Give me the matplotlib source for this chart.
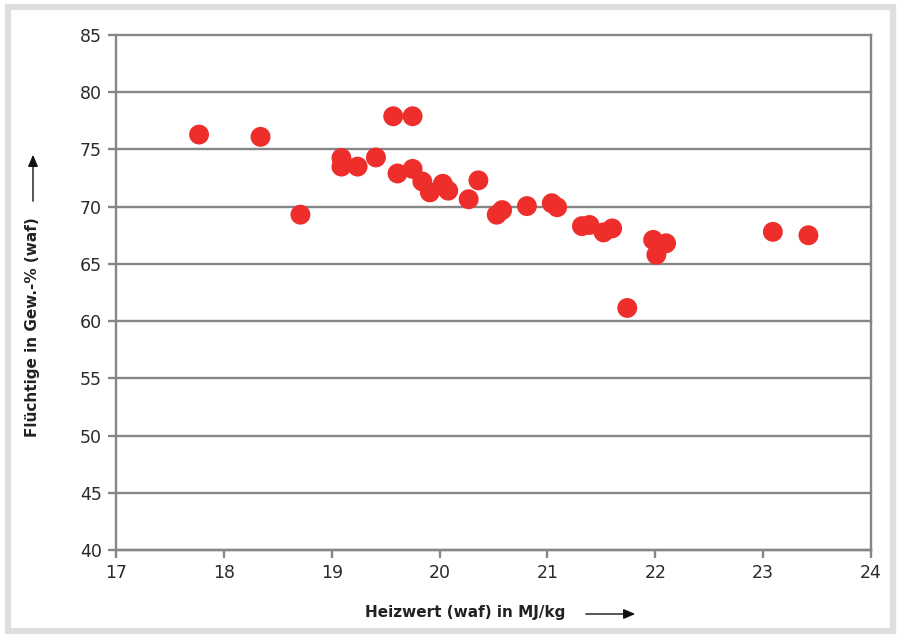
import matplotlib
matplotlib.use("Agg")
import matplotlib.pyplot as plt
from matplotlib.patches import Rectangle, FancyArrowPatch

# Heizwert (waf) in MJ/kg and Flüchtige in Gew.-% (waf)
heizwert = [17.77, 18.34, 18.71, 19.09, 19.09, 19.24, 19.41, 19.57, 19.75,
            19.61, 19.75, 19.84, 19.91, 20.03, 20.08, 20.27, 20.36, 20.53,
            20.58, 20.81, 21.04, 21.09, 21.32, 21.39, 21.52, 21.60, 21.74,
            21.98, 22.10, 22.01, 23.09, 23.42]
fluechtige = [76.3, 76.1, 69.3, 74.25, 73.5, 73.5, 74.3, 77.9, 77.9,
              72.9, 73.3, 72.2, 71.25, 72.0, 71.4, 70.65, 72.3, 69.3,
              69.7, 70.05, 70.3, 69.95, 68.3, 68.4, 67.75, 68.1, 61.15,
              67.1, 66.8, 65.8, 67.8, 67.5]

xticks = [17, 18, 19, 20, 21, 22, 23, 24]
yticks = [40, 45, 50, 55, 60, 65, 70, 75, 80, 85]

W, H = 899, 639
fig = plt.figure(figsize=(W / 100, H / 100), dpi=100)
fig.patch.set_facecolor("white")

# light grey frame around the figure
fig.patches.append(Rectangle((8 / W, 8 / H), 885 / W, 624 / H, transform=fig.transFigure,
                             fill=False, edgecolor="#dedede", linewidth=4.5))

ax = fig.add_axes([116 / W, 1 - 550 / H, 755 / W, 515 / H])
grey = "#848688"

ax.set_xlim(17, 24)
ax.set_ylim(40, 85)
ax.set_xticks(xticks)
ax.set_yticks(yticks)
ax.yaxis.grid(True, color=grey, linewidth=1.7)
ax.set_axisbelow(True)
for gl in ax.get_ygridlines():
    gl.set_clip_on(False)

for side in ["left", "right", "bottom"]:
    ax.spines[side].set_color(grey)
    ax.spines[side].set_linewidth(1.7)
ax.spines["top"].set_visible(False)

ax.tick_params(axis="both", direction="out", length=6, width=1.7, color=grey,
               labelsize=12.5, labelcolor="#2a2a2a", pad=4)

ax.scatter(heizwert, fluechtige, s=205, color="#ee2e2b", edgecolors="none",
           zorder=3, clip_on=False)

# axis labels with arrows
fig.text(465 / W, 1 - 613 / H, "Heizwert (waf) in MJ/kg", ha="center", va="center",
         fontsize=11, fontweight="bold", color="#222222")
fig.text(33 / W, 1 - 327 / H, "Flüchtige in Gew.-% (waf)", ha="center", va="center",
         rotation=90, fontsize=11, fontweight="bold", color="#222222")

fig.add_artist(FancyArrowPatch(
    (583 / W, 1 - 614 / H), (638 / W, 1 - 614 / H), transform=fig.transFigure,
    arrowstyle="-|>,head_length=7,head_width=3", color="#111111", linewidth=1))
fig.add_artist(FancyArrowPatch(
    (33 / W, 1 - 204 / H), (33 / W, 1 - 152 / H), transform=fig.transFigure,
    arrowstyle="-|>,head_length=7,head_width=3", color="#111111", linewidth=1))

fig.savefig("out.png", dpi=100)
